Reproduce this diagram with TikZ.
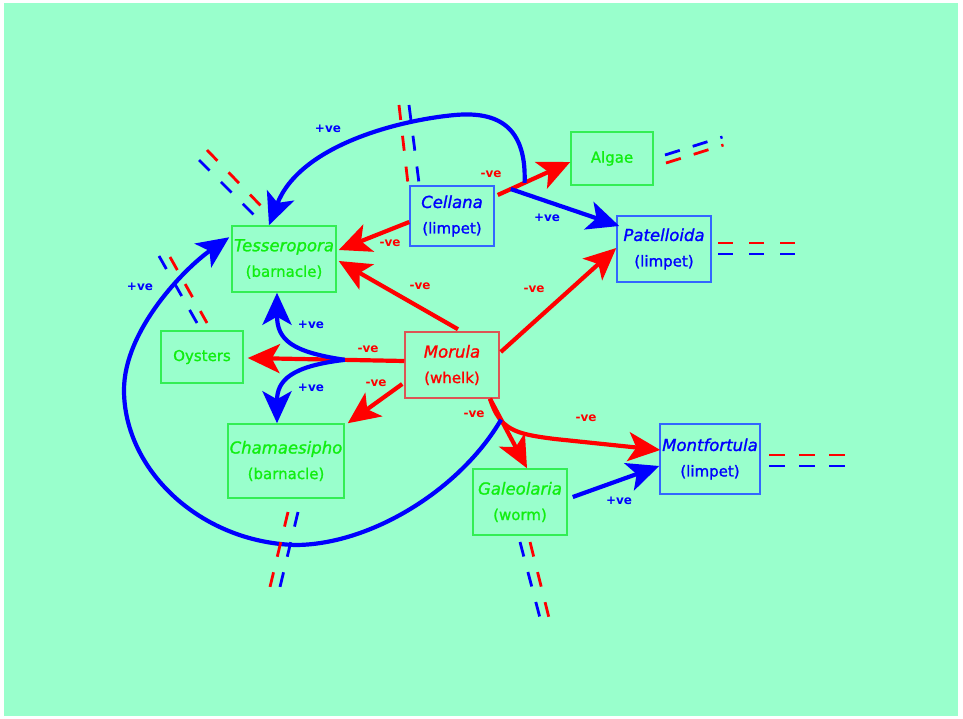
\documentclass[tikz,border=0pt]{standalone}
\usepackage{fontspec}
\setmainfont{DejaVu Sans}
\newfontfamily\nmfont[FakeBold=1.3]{DejaVu Sans}
\usetikzlibrary{arrows.meta}
\definecolor{bg}{HTML}{99FFCC}
\definecolor{grn}{HTML}{11EE11}
\definecolor{gbox}{HTML}{33EE55}
\definecolor{bbox}{HTML}{3366FF}
\definecolor{rbox}{HTML}{DD5555}
\definecolor{blu}{HTML}{0000FF}
\definecolor{rd}{HTML}{FF0000}
\newcommand\spname[1]{{\fontsize{16.5}{25.5}\selectfont\itshape #1}}
\begin{document}
\begin{tikzpicture}[x=1pt,y=-1pt,
  box/.style={line width=1.5pt, inner sep=0pt, align=center, font=\nmfont\fontsize{15}{25.5}\selectfont},
  gnode/.style={box, draw=gbox, text=grn},
  bnode/.style={box, draw=bbox, text=blu},
  rnode/.style={box, draw=rbox, text=rd},
  ar/.style={line width=4.2pt, -{Stealth[length=32pt,width=29pt,inset=8pt]}},
  lab/.style={font=\bfseries\fontsize{12}{14}\selectfont, inner sep=0pt},
  labr/.style={lab, text=rd},
  labb/.style={lab, text=blu},
  cutr/.style={draw=rd, line width=2.8pt, dash pattern=on 15pt off 16pt},
  cutb/.style={draw=blu, line width=2.8pt, dash pattern=on 15pt off 16pt}]
\useasboundingbox (0,0) rectangle (963,719);
\fill[bg] (4,3) rectangle (958,716);

% nodes
\node[bnode, minimum width=84pt, minimum height=60pt] (cel) at (452,216) {\spname{Cellana}\\(limpet)};
\node[gnode, minimum width=82pt, minimum height=53pt] (alg) at (612,158.5) {Algae};
\node[bnode, minimum width=94pt, minimum height=66pt] (pat) at (664,249) {\spname{Patelloida}\\(limpet)};
\node[gnode, minimum width=104pt, minimum height=66pt] (tes) at (284,259) {\spname{Tesseropora}\\(barnacle)};
\node[gnode, minimum width=82pt, minimum height=52pt] (oys) at (202,357) {Oysters};
\node[rnode, minimum width=94pt, minimum height=66pt] (mor) at (452,365) {\spname{Morula}\\(whelk)};
\node[gnode, minimum width=116pt, minimum height=74pt] (cha) at (286,461) {\spname{Chamaesipho}\\(barnacle)};
\node[gnode, minimum width=94pt, minimum height=66pt] (gal) at (520,502) {\spname{Galeolaria}\\(worm)};
\node[bnode, minimum width=100pt, minimum height=70pt] (mon) at (710,459) {\spname{Montfortula}\\(limpet)};

% red connectors
\draw[ar,rd] ([yshift=-6pt]cel.west) -- ([xshift=2pt,yshift=9pt]tes.east);
\draw[ar,rd] ([xshift=6pt,yshift=2pt]mor.north) -- ([xshift=2pt,yshift=-2pt]tes.east);
\draw[ar,rd] ([yshift=4pt]mor.west) -- coordinate[pos=0.38] (mo) ([xshift=4pt,yshift=-1pt]oys.east);
\draw[ar,rd] ([xshift=-2pt,yshift=-19pt]mor.west) -- ([xshift=3pt]cha.north east);
\draw[ar,rd] ([xshift=1pt,yshift=13pt]mor.east) -- ([yshift=1pt]pat.west);
\draw[ar,rd] ([xshift=38pt]mor.south) -- coordinate[pos=0.3] (mg) ([xshift=7pt]gal.north);
\draw[ar,rd] ([xshift=38pt]mor.south) .. controls (500,430) and (515,434) .. (555,439) -- ([xshift=1pt,yshift=9pt]mon.west);
\draw[ar,rd] ([xshift=3pt,yshift=21pt]cel.east) -- coordinate[pos=0.18] (cp) coordinate[pos=0.37] (cl) ([yshift=-3.5pt]alg.west);

% blue connectors
\draw[ar,blu] (cp) -- ([xshift=3pt,yshift=23pt]pat.west);
\draw[ar,blu] (cl) .. controls (527,120) and (490,112) .. (455,115) .. controls (400,120) and (300,145) .. ([xshift=-15pt]tes.north);
\draw[ar,blu] (mo) .. controls (292,352) and (277,340) .. ([xshift=-7pt]tes.south);
\draw[ar,blu] (mo) .. controls (292,366) and (277,380) .. ([xshift=-9pt]cha.north);
\draw[ar,blu] (mg) .. controls (460,490) and (370,545) .. (295,545) .. controls (200,542) and (124,470) .. (124,390) .. controls (124,330) and (185,268) .. ([xshift=-2pt,yshift=-12pt]tes.north west);
\draw[ar,blu] ([xshift=5pt,yshift=5pt]gal.east) -- ([yshift=-7pt]mon.west);

% labels
\node[labb] (p1) at (328,129) {+ve};
\node[labr] (n1) at (491,174) {-ve};
\node[labb] (p2) at (547,218) {+ve};
\node[labr] (n2) at (390,243) {-ve};
\node[labr] (n3) at (420,286) {-ve};
\node[labr] (n4) at (534,289) {-ve};
\node[labb] (p3) at (140,287) {+ve};
\node[labb] (p4) at (311,325) {+ve};
\node[labr] (n5) at (368,349) {-ve};
\node[labr] (n6) at (376,383) {-ve};
\node[labb] (p5) at (311,388) {+ve};
\node[labr] (n7) at (474,414) {-ve};
\node[labr] (n8) at (586,418) {-ve};
\node[labb] (p6) at (619,501) {+ve};

% cut marks
\draw[cutr] (399,105) -- (408,184);
\draw[cutb] (409,105) -- (419,183);
\draw[cutr] (207,150) -- (262,207);
\draw[cutb] (199,160) -- (254,215);
\draw[cutb] (159,256) -- (197,323);
\draw[cutr] (170,257) -- (207,323);
\draw[cutb, dash pattern=on 15.5pt off 13.5pt] (665,155) -- (722.5,137);
\draw[cutr, dash pattern=on 15.5pt off 13.5pt] (666,163) -- (723.5,145);
\draw[cutr] (718,243) -- (796,243);
\draw[cutb] (718,254) -- (796,254);
\draw[cutr, dash pattern=on 16pt off 14pt] (769,455) -- (846,455);
\draw[cutb, dash pattern=on 16pt off 14pt] (769,466) -- (846,466);
\draw[cutb] (520,542) -- (540,618);
\draw[cutr] (530,542) -- (549,618);
\draw[cutr] (288,512) -- (270,587);
\draw[cutb] (298,512) -- (280,587);
\end{tikzpicture}
\end{document}
